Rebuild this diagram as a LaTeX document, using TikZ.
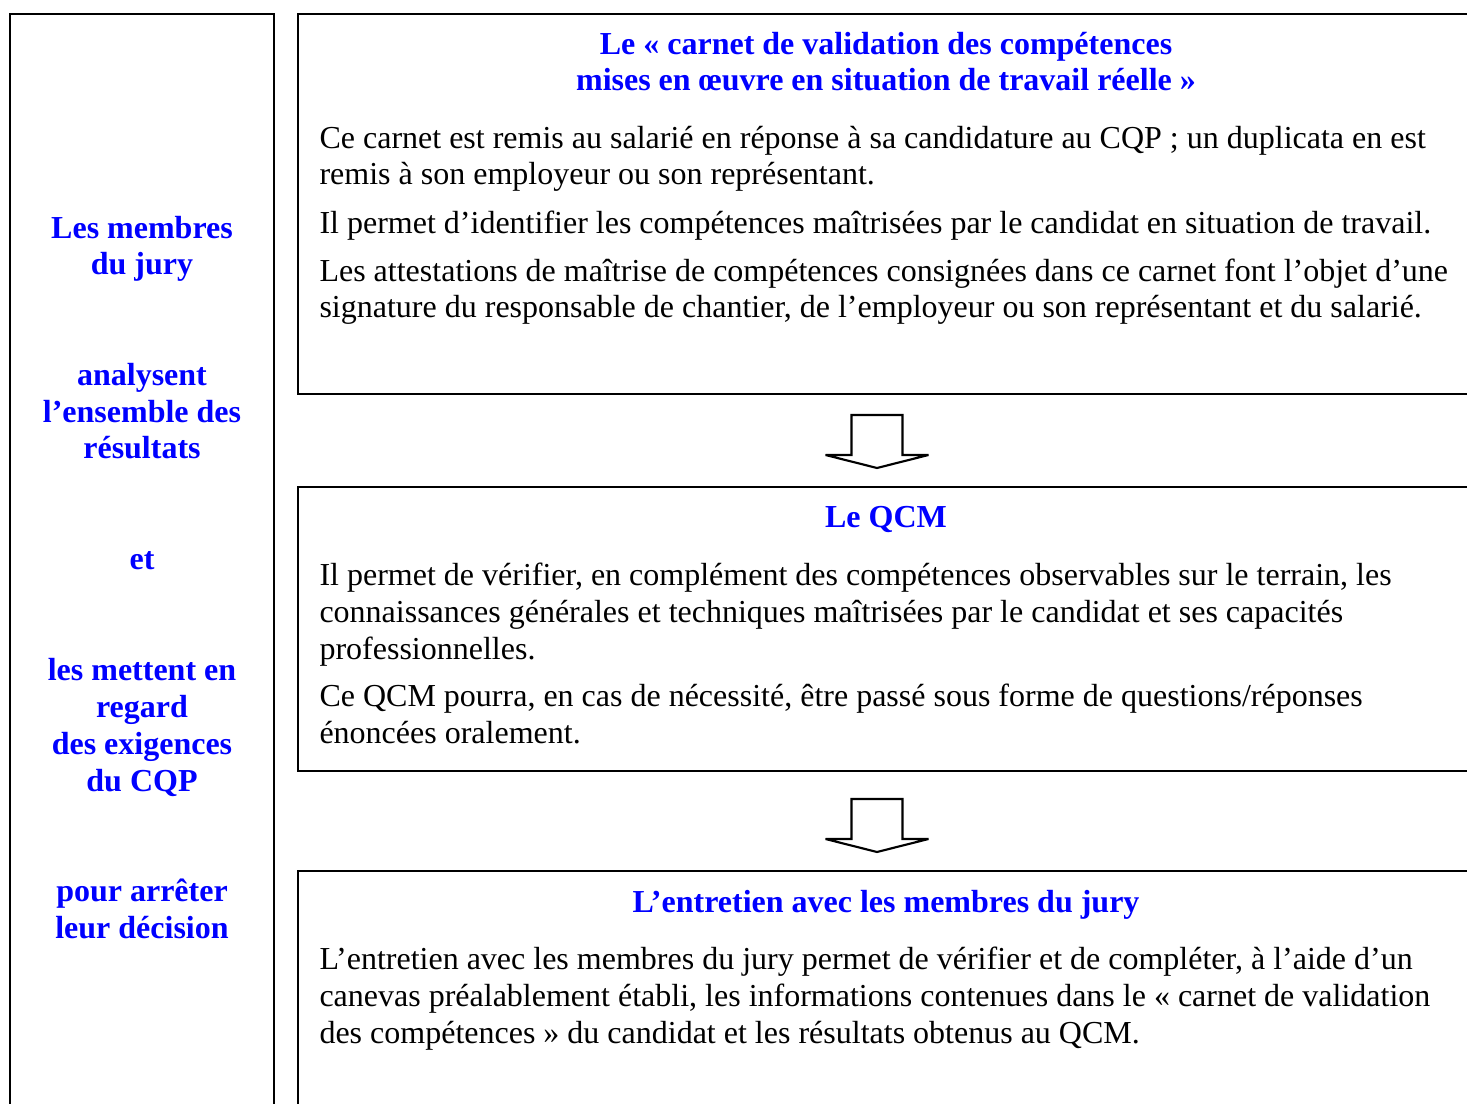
\documentclass[tikz,border=0pt]{standalone}
\usepackage{fontspec}
\setmainfont{Liberation Serif}
\usepackage{xcolor, tikz}
\usetikzlibrary{calc}
\newcommand\bodysize{\fontsize{12}{13.8}\selectfont}

\begin{document}
\begin{tikzpicture}[
    x=0.375pt, y=-0.375pt,
    panel/.style = {
        draw=black,
        line width=0.8pt,
    },
    heading/.style = {
        anchor=base,
        inner sep=0pt,
        align=center,
        text=blue,
        font=\bodysize\bfseries,
    },
    body/.style = {
        anchor=base west,
        inner sep=0pt,
        align=left,
        font=\bodysize,
    },
    down/.pic = {
        \coordinate (-top) at (0, 0);
        \path [draw=black, line width=0.8pt, miter limit=1.5]
            (-25.5, 0) -- (25.5, 0) -- (25.5, 40) -- (51.5, 40)
            -- (0, 53) coordinate (-tip)
            -- (-51.5, 40) -- (-25.5, 40) -- cycle;
    },
]
\clip (0, 0) rectangle (1467, 1104);
% frames
\draw [panel] (10, 14) rectangle (274, 1130);
\draw [panel] (298, 14) rectangle (1490, 394);
\draw [panel] (298, 487) rectangle (1490, 771);
\draw [panel] (298, 871) rectangle (1490, 1130);
\pic (first) at (877, 415) {down};
\pic (second) at (877, 799) {down};
% left column (base = last line)
\node (members) [heading] at (142, 275) {Les membres\\du jury};
\node (analyse) [heading] at (142, 459) {analysent\\l’ensemble des\\résultats};
\node (and) [heading] at (142, 570) {et};
\node (regard) [heading] at (142, 791) {les mettent en\\regard\\des exigences\\du CQP};
\node (decide) [heading] at (142, 938) {pour arrêter\\leur décision};
% carnet
\node (carnet) [heading] at (886, 91)
    {Le « carnet de validation des compétences\\mises en œuvre en situation de travail réelle »};
\node (carnet-a) [body] at (319, 185)
    {Ce carnet est remis au salarié en réponse à sa candidature au CQP ; un duplicata en est\\remis à son employeur ou son représentant.};
\node (carnet-b) [body] at (319, 234)
    {Il permet d’identifier les compétences maîtrisées par le candidat en situation de travail.};
\node (carnet-c) [body] at (319, 318)
    {Les attestations de maîtrise de compétences consignées dans ce carnet font l’objet d’une\\signature du responsable de chantier, de l’employeur ou son représentant et du salarié.};
% qcm
\node (qcm) [heading] at (886, 528) {Le QCM};
\node (qcm-a) [body] at (319, 659)
    {Il permet de vérifier, en complément des compétences observables sur le terrain, les\\connaissances générales et techniques maîtrisées par le candidat et ses capacités\\professionnelles.};
\node (qcm-b) [body] at (319, 743)
    {Ce QCM pourra, en cas de nécessité, être passé sous forme de questions/réponses\\énoncées oralement.};
% entretien
\node (talk) [heading] at (886, 912) {L’entretien avec les membres du jury};
\node (talk-a) [body] at (319, 1043)
    {L’entretien avec les membres du jury permet de vérifier et de compléter, à l’aide d’un\\canevas préalablement établi, les informations contenues dans le « carnet de validation\\des compétences » du candidat et les résultats obtenus au QCM.};
\end{tikzpicture}
\end{document}
